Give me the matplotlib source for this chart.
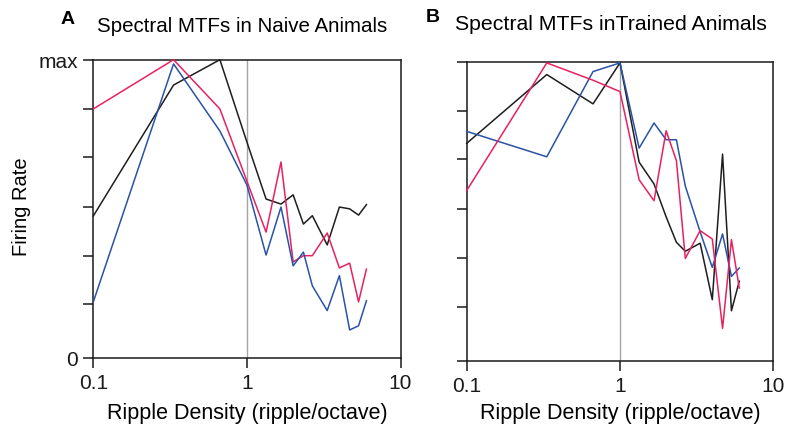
import matplotlib
matplotlib.use("Agg")
import matplotlib.pyplot as plt

plt.rcParams['font.family'] = ['Liberation Sans', 'DejaVu Sans']

# Ripple densities (ripple/octave)
density = [0.1, 0.333, 0.667, 1.0, 1.333, 1.667, 2.0, 2.333, 2.667, 3.333, 4.0, 4.667, 5.333, 6.0]

# Panel A: naive animals (normalized firing rate, 0..max)
naive_black = [0.476, 0.915, 1.0, 0.724, 0.533, 0.516, 0.547, 0.449, 0.477, 0.379, 0.506, 0.500, 0.479, 0.514]
naive_red = [0.835, 1.0, 0.835, 0.593, 0.422, 0.657, 0.322, 0.343, 0.343, 0.419, 0.302, 0.318, 0.188, 0.298]
naive_blue = [0.188, 0.986, 0.761, 0.580, 0.345, 0.506, 0.309, 0.355, 0.242, 0.159, 0.276, 0.094, 0.108, 0.192]

# Panel B: trained animals
trained_black = [0.727, 0.957, 0.859, 0.996, 0.664, 0.591, 0.481, 0.396, 0.366, 0.393, 0.204, 0.691, 0.167, 0.266]
trained_blue = [0.767, 0.682, 0.967, 0.996, 0.711, 0.795, 0.739, 0.739, 0.584, 0.431, 0.312, 0.424, 0.282, 0.310]
trained_red = [0.569, 0.996, 0.938, 0.900, 0.605, 0.535, 0.769, 0.669, 0.342, 0.435, 0.407, 0.108, 0.405, 0.243]

ytick_pos = [0, 0.181, 0.342, 0.506, 0.674, 0.835, 1.0]
ytick_labels_left = ['0', '', '', '', '', '', 'max']
xtick_pos = [0.1, 1, 10]
xtick_labels = ['0.1', '1', '10']

C_BLACK = '#1e1e1e'
C_RED = '#e8215f'
C_BLUE = '#2a52a6'

W, H = 788, 431
fig = plt.figure(figsize=(W / 100, H / 100), dpi=100)

def px_axes(x0, x1, ytop, ybot):
    return fig.add_axes([x0 / W, 1 - ybot / H, (x1 - x0) / W, (ybot - ytop) / H])

axA = px_axes(93.3, 400.5, 60.7, 359)
axB = px_axes(466.7, 773.3, 62.7, 361.7)

panels = [
    (axA, [(naive_black, C_BLACK), (naive_red, C_RED), (naive_blue, C_BLUE)], ytick_labels_left),
    (axB, [(trained_black, C_BLACK), (trained_blue, C_BLUE), (trained_red, C_RED)], ['' for _ in ytick_pos]),
]

for ax, series, ylabels in panels:
    ax.set_xscale('log')
    ax.set_xlim(0.1, 10)
    ax.set_ylim(0, 1)
    ax.axvline(1, color='#a5a5a5', lw=1.0, zorder=1)
    for vals, col in series:
        ax.plot(density, vals, color=col, lw=1.1, clip_on=False, zorder=3)
    ax.set_xticks(xtick_pos)
    ax.set_xticklabels(xtick_labels)
    ax.xaxis.set_minor_locator(matplotlib.ticker.NullLocator())
    ax.set_yticks(ytick_pos)
    ax.set_yticklabels(ylabels)
    ax.tick_params(axis='both', direction='out', length=7, width=1.1, labelsize=15, colors='#1a1a1a')
    ax.tick_params(axis='x', pad=4)
    ax.tick_params(axis='y', pad=4)
    for s in ax.spines.values():
        s.set_linewidth(1.1)
        s.set_color('#1a1a1a')

fig.text(68 / W, 1 - 19 / H, 'A', fontsize=14, fontweight='bold', ha='center', va='center')
fig.text(97 / W, 1 - 27 / H, 'Spectral MTFs in Naive Animals', fontsize=14.8, ha='left', va='center')
fig.text(433 / W, 1 - 18 / H, 'B', fontsize=14, fontweight='bold', ha='center', va='center')
fig.text(455 / W, 1 - 25 / H, 'Spectral MTFs inTrained Animals', fontsize=15.3, ha='left', va='center')

fig.text(22 / W, 1 - 207 / H, 'Firing Rate', fontsize=14.5, rotation=90, ha='center', va='center')
fig.text(247 / W, 1 - 414 / H, 'Ripple Density (ripple/octave)', fontsize=15.5, ha='center', va='center')
fig.text(620 / W, 1 - 414 / H, 'Ripple Density (ripple/octave)', fontsize=15.5, ha='center', va='center')

fig.savefig('out.png', dpi=100)
